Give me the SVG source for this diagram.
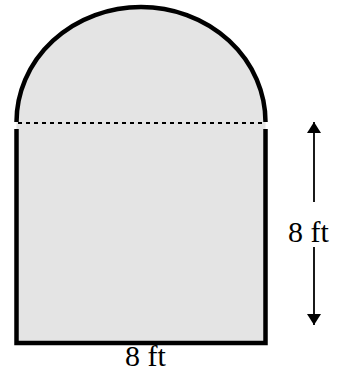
<svg xmlns="http://www.w3.org/2000/svg" width="344" height="372" viewBox="0 0 344 372">
<style>
.fill{fill:#e4e4e4;stroke:none}
.thick{fill:none;stroke:#000;stroke-width:4.5}
.dash{fill:none;stroke:#000;stroke-width:2;stroke-dasharray:4,4}
.dim{stroke:#000;stroke-width:1.8}
text{font-family:"Liberation Serif","Times New Roman",serif;font-size:30px;fill:#000}
</style>
<defs>
<marker id="ah" markerWidth="11" markerHeight="14" refX="11" refY="7" orient="auto" markerUnits="userSpaceOnUse" viewBox="0 0 11 14">
<path d="M0,0 L11,7 L0,14 Z" fill="#000"/>
</marker>
</defs>
<g id="shape">
<path class="fill" d="M16.5,123 A124.5,116 0 0 1 265.5,123 L265.5,343 L16.5,343 Z"/>
<path class="thick" d="M16.5,122 A124.5,115 0 0 1 265.5,122"/>
<path class="thick" d="M16.5,129 L16.5,343 L265.5,343 L265.5,129" stroke-linejoin="miter"/>
<line class="dash" x1="18" y1="123" x2="265" y2="123"/>
</g>
<g id="connectors">
<line class="dim" x1="314" y1="202" x2="314" y2="122" marker-end="url(#ah)"/>
<line class="dim" x1="314" y1="247" x2="314" y2="325" marker-end="url(#ah)"/>
</g>
<g id="labels">
<text x="288" y="242">8 ft</text>
<text x="125" y="366">8 ft</text>
</g>
</svg>
